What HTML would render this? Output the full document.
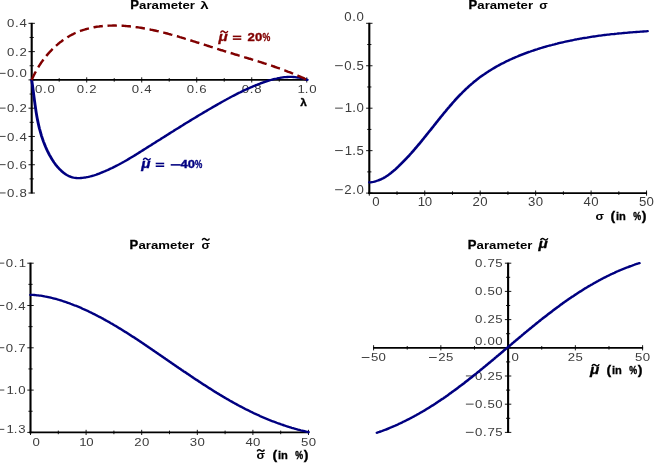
<!DOCTYPE html>
<html><head><meta charset="utf-8"><title>Parameter plots</title>
<style>
html,body{margin:0;padding:0;background:#fff;}
body{width:654px;height:463px;overflow:hidden;}
svg{display:block;will-change:transform;}
text{font-family:"Liberation Sans",sans-serif;}
.tk{font-family:"Liberation Sans",sans-serif;font-size:11.0px;fill:#3c3c3c;text-anchor:middle;}
.ttl{font-family:"Liberation Sans",sans-serif;font-weight:bold;font-size:11px;}
.hv{stroke-width:0.35px;}
.it{font-style:italic;}
</style></head><body>
<svg width="654" height="463" viewBox="0 0 654 463">
<rect x="0" y="0" width="654" height="463" fill="#ffffff"/>
<line x1="31.70" y1="22.84" x2="31.70" y2="193.52" stroke="#000000" stroke-width="2.1"/>
<line x1="30.70" y1="79.90" x2="307.25" y2="79.90" stroke="#000000" stroke-width="1.8"/>
<line x1="28.50" y1="193.02" x2="34.90" y2="193.02" stroke="#000000" stroke-width="0.9"/>
<line x1="29.60" y1="178.88" x2="33.80" y2="178.88" stroke="#000000" stroke-width="0.9"/>
<line x1="28.50" y1="164.74" x2="34.90" y2="164.74" stroke="#000000" stroke-width="0.9"/>
<line x1="29.60" y1="150.60" x2="33.80" y2="150.60" stroke="#000000" stroke-width="0.9"/>
<line x1="28.50" y1="136.46" x2="34.90" y2="136.46" stroke="#000000" stroke-width="0.9"/>
<line x1="29.60" y1="122.32" x2="33.80" y2="122.32" stroke="#000000" stroke-width="0.9"/>
<line x1="28.50" y1="108.18" x2="34.90" y2="108.18" stroke="#000000" stroke-width="0.9"/>
<line x1="29.60" y1="94.04" x2="33.80" y2="94.04" stroke="#000000" stroke-width="0.9"/>
<line x1="28.50" y1="79.90" x2="34.90" y2="79.90" stroke="#000000" stroke-width="0.9"/>
<line x1="29.60" y1="65.76" x2="33.80" y2="65.76" stroke="#000000" stroke-width="0.9"/>
<line x1="28.50" y1="51.62" x2="34.90" y2="51.62" stroke="#000000" stroke-width="0.9"/>
<line x1="29.60" y1="37.48" x2="33.80" y2="37.48" stroke="#000000" stroke-width="0.9"/>
<line x1="28.50" y1="23.34" x2="34.90" y2="23.34" stroke="#000000" stroke-width="0.9"/>
<line x1="31.70" y1="77.30" x2="31.70" y2="82.50" stroke="#000000" stroke-width="0.9"/>
<line x1="59.20" y1="78.10" x2="59.20" y2="81.70" stroke="#000000" stroke-width="0.9"/>
<line x1="86.71" y1="77.30" x2="86.71" y2="82.50" stroke="#000000" stroke-width="0.9"/>
<line x1="114.22" y1="78.10" x2="114.22" y2="81.70" stroke="#000000" stroke-width="0.9"/>
<line x1="141.72" y1="77.30" x2="141.72" y2="82.50" stroke="#000000" stroke-width="0.9"/>
<line x1="169.22" y1="78.10" x2="169.22" y2="81.70" stroke="#000000" stroke-width="0.9"/>
<line x1="196.73" y1="77.30" x2="196.73" y2="82.50" stroke="#000000" stroke-width="0.9"/>
<line x1="224.23" y1="78.10" x2="224.23" y2="81.70" stroke="#000000" stroke-width="0.9"/>
<line x1="251.74" y1="77.30" x2="251.74" y2="82.50" stroke="#000000" stroke-width="0.9"/>
<line x1="279.25" y1="78.10" x2="279.25" y2="81.70" stroke="#000000" stroke-width="0.9"/>
<line x1="306.75" y1="77.30" x2="306.75" y2="82.50" stroke="#000000" stroke-width="0.9"/>
<text class="tk" style="font-size:11.7px" transform="translate(0,27.43) scale(1.128,1)" x="9.53 15.02 20.52" y="0">0.4</text>
<text class="tk" style="font-size:11.7px" transform="translate(0,55.71) scale(1.128,1)" x="9.53 15.02 20.52" y="0">0.2</text>
<text class="tk" style="font-size:11.7px" transform="translate(0,77.49) scale(1.128,1)" x="9.53 15.02 20.52" y="0">0.0</text>
<rect x="-2.10" y="72.85" width="7.7" height="0.95" fill="#3c3c3c"/>
<text class="tk" style="font-size:11.7px" transform="translate(0,112.27) scale(1.128,1)" x="9.53 15.02 20.52" y="0">0.2</text>
<rect x="-2.10" y="107.63" width="7.7" height="0.95" fill="#3c3c3c"/>
<text class="tk" style="font-size:11.7px" transform="translate(0,140.55) scale(1.128,1)" x="9.53 15.02 20.52" y="0">0.4</text>
<rect x="-2.10" y="135.91" width="7.7" height="0.95" fill="#3c3c3c"/>
<text class="tk" style="font-size:11.7px" transform="translate(0,168.83) scale(1.128,1)" x="9.53 15.02 20.52" y="0">0.6</text>
<rect x="-2.10" y="164.19" width="7.7" height="0.95" fill="#3c3c3c"/>
<text class="tk" style="font-size:11.7px" transform="translate(0,197.11) scale(1.128,1)" x="9.53 15.02 20.52" y="0">0.8</text>
<rect x="-2.10" y="192.47" width="7.7" height="0.95" fill="#3c3c3c"/>
<text class="tk" style="font-size:11.7px" transform="translate(0,92.60) scale(1.128,1)" x="34.30 39.80 45.29" y="0">0.0</text>
<text class="tk" style="font-size:11.7px" transform="translate(0,92.60) scale(1.128,1)" x="71.36 76.86 82.35" y="0">0.2</text>
<text class="tk" style="font-size:11.7px" transform="translate(0,92.60) scale(1.128,1)" x="120.12 125.62 131.11" y="0">0.4</text>
<text class="tk" style="font-size:11.7px" transform="translate(0,92.60) scale(1.128,1)" x="168.88 174.37 179.87" y="0">0.6</text>
<text class="tk" style="font-size:11.7px" transform="translate(0,92.60) scale(1.128,1)" x="217.64 223.13 228.63" y="0">0.8</text>
<text class="tk" style="font-size:11.7px" transform="translate(0,92.60) scale(1.128,1)" x="266.93 271.89 277.39" y="0">1.0</text>
<path transform="scale(1.25,1)" d="M25.36,79.9 L25.55,81.5 L25.73,83.1 L25.91,84.6 L26.08,86.2 L26.25,87.8 L26.42,89.3 L26.59,90.9 L26.75,92.4 L26.91,94.0 L27.07,95.5 L27.23,97.1 L27.39,98.6 L27.55,100.1 L27.71,101.7 L27.88,103.2 L28.04,104.7 L28.21,106.2 L28.39,107.7 L28.57,109.2 L28.75,110.8 L28.94,112.3 L29.14,113.8 L29.34,115.3 L29.56,116.8 L29.78,118.3 L30.00,119.7 L30.24,121.2 L30.49,122.7 L30.75,124.2 L31.02,125.7 L31.30,127.2 L31.59,128.7 L31.90,130.1 L32.22,131.6 L32.55,133.1 L32.90,134.6 L33.27,136.1 L33.65,137.5 L34.05,139.0 L34.46,140.5 L34.90,142.0 L35.35,143.4 L35.82,144.9 L36.31,146.4 L36.82,147.8 L37.35,149.3 L37.90,150.8 L38.48,152.3 L39.07,153.7 L39.69,155.2 L40.33,156.6 L40.99,158.0 L41.67,159.4 L42.38,160.8 L43.11,162.2 L43.86,163.5 L44.63,164.8 L45.43,166.0 L46.25,167.3 L47.09,168.4 L47.95,169.6 L48.84,170.6 L49.75,171.7 L50.68,172.6 L51.63,173.5 L52.61,174.3 L53.62,175.1 L54.64,175.8 L55.69,176.4 L56.76,176.9 L57.86,177.3 L58.97,177.6 L60.11,177.8 L61.26,178.0 L62.42,178.1 L63.60,178.1 L64.79,178.0 L65.99,177.9 L67.19,177.7 L68.41,177.5 L69.62,177.2 L70.84,176.9 L72.05,176.5 L73.27,176.1 L74.48,175.7 L75.69,175.2 L76.90,174.7 L78.10,174.1 L79.29,173.6 L80.47,173.0 L81.65,172.4 L82.82,171.8 L83.99,171.2 L85.15,170.6 L86.30,170.0 L87.44,169.3 L88.58,168.6 L89.72,168.0 L90.84,167.3 L91.96,166.6 L93.08,165.8 L94.19,165.1 L95.30,164.4 L96.40,163.6 L97.50,162.9 L98.59,162.1 L99.68,161.4 L100.77,160.6 L101.85,159.8 L102.93,159.0 L104.00,158.2 L105.08,157.4 L106.14,156.6 L107.21,155.8 L108.27,155.0 L109.34,154.2 L110.40,153.3 L111.45,152.5 L112.51,151.7 L113.56,150.9 L114.62,150.0 L115.67,149.2 L116.72,148.4 L117.77,147.5 L118.82,146.7 L119.87,145.9 L120.92,145.1 L121.96,144.2 L123.01,143.4 L124.06,142.6 L125.10,141.7 L126.15,140.9 L127.20,140.1 L128.24,139.3 L129.29,138.4 L130.33,137.6 L131.38,136.8 L132.42,136.0 L133.47,135.2 L134.51,134.3 L135.56,133.5 L136.60,132.7 L137.65,131.9 L138.69,131.1 L139.74,130.2 L140.79,129.4 L141.83,128.6 L142.88,127.8 L143.93,127.0 L144.98,126.2 L146.03,125.4 L147.07,124.5 L148.12,123.7 L149.18,122.9 L150.23,122.1 L151.28,121.3 L152.33,120.5 L153.39,119.7 L154.44,118.9 L155.50,118.1 L156.56,117.3 L157.62,116.5 L158.68,115.7 L159.74,114.9 L160.80,114.1 L161.86,113.3 L162.93,112.5 L163.99,111.7 L165.06,111.0 L166.13,110.2 L167.20,109.4 L168.28,108.6 L169.35,107.8 L170.43,107.0 L171.50,106.3 L172.58,105.5 L173.67,104.7 L174.75,103.9 L175.83,103.2 L176.92,102.4 L178.01,101.6 L179.10,100.9 L180.20,100.1 L181.29,99.4 L182.39,98.6 L183.49,97.9 L184.60,97.1 L185.70,96.4 L186.81,95.7 L187.92,95.0 L189.03,94.3 L190.15,93.5 L191.27,92.8 L192.39,92.2 L193.51,91.5 L194.64,90.8 L195.77,90.1 L196.90,89.5 L198.03,88.8 L199.17,88.2 L200.31,87.6 L201.46,86.9 L202.61,86.3 L203.76,85.7 L204.91,85.1 L206.07,84.6 L207.23,84.0 L208.39,83.4 L209.56,82.9 L210.73,82.4 L211.91,81.9 L213.09,81.4 L214.27,80.9 L215.45,80.4 L216.64,80.0 L217.83,79.6 L219.02,79.2 L220.22,78.8 L221.42,78.5 L222.62,78.1 L223.82,77.9 L225.03,77.6 L226.24,77.4 L227.45,77.2 L228.66,77.1 L229.88,77.0 L231.10,76.9 L232.32,76.9 L233.54,76.9 L234.76,77.0 L235.99,77.1 L237.22,77.3 L238.44,77.5 L239.67,77.7 L240.91,78.1 L242.14,78.4 L243.37,78.9 L244.61,79.4 L245.84,79.9" fill="none" stroke="#000080" stroke-width="2.3" stroke-linecap="round" stroke-linejoin="round"/>
<path d="M31.67,79.9 L32.18,78.7 L32.71,77.6 L33.26,76.4 L33.83,75.2 L34.41,74.1 L35.00,72.9 L35.62,71.8 L36.25,70.6 L36.89,69.5 L37.55,68.4 L38.22,67.3 L38.91,66.2 L39.61,65.1 L40.33,64.0 L41.06,62.9 L41.81,61.8 L42.57,60.8 L43.34,59.7 L44.13,58.7 L44.93,57.6 L45.75,56.6 L46.57,55.6 L47.41,54.6 L48.27,53.6 L49.13,52.7 L50.01,51.7 L50.90,50.8 L51.80,49.8 L52.71,48.9 L53.63,48.0 L54.57,47.1 L55.52,46.3 L56.47,45.4 L57.44,44.6 L58.42,43.7 L59.41,42.9 L60.41,42.1 L61.42,41.4 L62.44,40.6 L63.47,39.9 L64.50,39.1 L65.55,38.4 L66.61,37.8 L67.67,37.1 L68.75,36.5 L69.83,35.8 L70.92,35.2 L72.02,34.6 L73.13,34.1 L74.24,33.5 L75.36,33.0 L76.49,32.5 L77.63,32.0 L78.77,31.6 L79.93,31.1 L81.08,30.7 L82.25,30.3 L83.42,29.9 L84.59,29.6 L85.78,29.2 L86.96,28.9 L88.16,28.6 L89.35,28.3 L90.56,28.0 L91.77,27.7 L92.98,27.5 L94.20,27.2 L95.42,27.0 L96.65,26.8 L97.88,26.6 L99.11,26.5 L100.35,26.3 L101.59,26.2 L102.84,26.0 L104.09,25.9 L105.34,25.8 L106.59,25.8 L107.85,25.7 L109.11,25.6 L110.37,25.6 L111.63,25.6 L112.90,25.5 L114.16,25.5 L115.43,25.5 L116.70,25.6 L117.97,25.6 L119.24,25.6 L120.51,25.7 L121.78,25.7 L123.06,25.8 L124.33,25.9 L125.60,26.0 L126.87,26.1 L128.15,26.2 L129.42,26.3 L130.69,26.5 L131.96,26.6 L133.23,26.8 L134.50,26.9 L135.76,27.1 L137.03,27.2 L138.30,27.4 L139.57,27.6 L140.83,27.8 L142.10,28.0 L143.36,28.2 L144.63,28.5 L145.89,28.7 L147.16,28.9 L148.42,29.2 L149.68,29.4 L150.94,29.7 L152.20,29.9 L153.47,30.2 L154.73,30.5 L155.99,30.8 L157.24,31.1 L158.50,31.3 L159.76,31.6 L161.02,31.9 L162.27,32.3 L163.53,32.6 L164.79,32.9 L166.04,33.2 L167.29,33.5 L168.55,33.9 L169.80,34.2 L171.05,34.6 L172.31,34.9 L173.56,35.3 L174.81,35.6 L176.06,36.0 L177.31,36.3 L178.56,36.7 L179.80,37.1 L181.05,37.4 L182.30,37.8 L183.55,38.2 L184.79,38.6 L186.04,38.9 L187.28,39.3 L188.53,39.7 L189.77,40.1 L191.01,40.5 L192.25,40.9 L193.50,41.3 L194.74,41.7 L195.98,42.1 L197.22,42.5 L198.46,42.8 L199.69,43.2 L200.93,43.6 L202.17,44.0 L203.40,44.4 L204.64,44.8 L205.88,45.2 L207.11,45.6 L208.34,46.0 L209.58,46.4 L210.81,46.8 L212.04,47.2 L213.27,47.6 L214.50,48.0 L215.73,48.4 L216.96,48.8 L218.19,49.2 L219.42,49.6 L220.65,50.0 L221.87,50.3 L223.10,50.7 L224.32,51.1 L225.55,51.5 L226.77,51.9 L228.00,52.2 L229.22,52.6 L230.44,53.0 L231.66,53.3 L232.88,53.7 L234.10,54.1 L235.32,54.5 L236.54,54.8 L237.76,55.2 L238.98,55.6 L240.19,55.9 L241.41,56.3 L242.62,56.6 L243.84,57.0 L245.05,57.4 L246.26,57.7 L247.48,58.1 L248.69,58.5 L249.90,58.8 L251.11,59.2 L252.32,59.6 L253.53,60.0 L254.74,60.3 L255.94,60.7 L257.15,61.1 L258.36,61.4 L259.56,61.8 L260.77,62.2 L261.97,62.6 L263.17,63.0 L264.37,63.4 L265.58,63.7 L266.78,64.1 L267.98,64.5 L269.18,64.9 L270.38,65.3 L271.57,65.7 L272.77,66.1 L273.97,66.5 L275.16,67.0 L276.36,67.4 L277.55,67.8 L278.75,68.2 L279.94,68.6 L281.13,69.1 L282.32,69.5 L283.51,70.0 L284.70,70.4 L285.89,70.8 L287.08,71.3 L288.27,71.8 L289.45,72.2 L290.64,72.7 L291.82,73.2 L293.01,73.6 L294.19,74.1 L295.38,74.6 L296.56,75.1 L297.74,75.6 L298.92,76.1 L300.10,76.6 L301.28,77.2 L302.46,77.7 L303.63,78.2 L304.81,78.8 L305.99,79.3" fill="none" stroke="#800000" stroke-width="2.45" stroke-dasharray="9.4 4.7"/>
<text class="ttl" style="font-size:12.4px" transform="translate(130.20,8.50) scale(1.052,1)"  stroke="#000" stroke-width="0.32">P</text>
<text class="ttl" style="font-size:11.3px" transform="translate(139.10,8.50) scale(1.169,1)" >arameter</text>
<text class="ttl" style="font-size:11.0px" transform="translate(200.30,8.50) scale(1.373,1)" >λ</text>
<text class="ttl" style="font-size:11.0px" transform="translate(300.20,106.40) scale(1.079,1)"  stroke="#000" stroke-width="0.32">λ</text>
<text class="ttl it hv" style="font-size:12.5px" transform="translate(218.60,40.80) scale(1.221,1)" fill="#800000" stroke="#800000">μ</text>
<path d="M220.60,32.80 C221.68,30.30 223.30,31.10 224.20,31.90 S226.72,33.50 227.80,31.00" fill="none" stroke-width="1.5" stroke="#800000"/>
<rect x="232.80" y="35.60" width="8.5" height="1.55" fill="#800000"/>
<rect x="232.80" y="38.35" width="8.5" height="1.55" fill="#800000"/>
<text class="ttl hv" style="font-size:11.0px" transform="translate(247.60,40.90) scale(1.193,1)" fill="#800000" stroke="#800000">20</text>
<text class="ttl hv" style="font-size:11.0px" transform="translate(262.40,40.90) scale(0.797,1)" fill="#800000" stroke="#800000">%</text>
<text class="ttl it hv" style="font-size:12.5px" transform="translate(141.30,168.00) scale(1.221,1)" fill="#000080" stroke="#000080">μ</text>
<path d="M143.30,160.00 C144.38,157.50 146.00,158.30 146.90,159.10 S149.42,160.70 150.50,158.20" fill="none" stroke-width="1.5" stroke="#000080"/>
<rect x="155.70" y="162.70" width="8.5" height="1.55" fill="#000080"/>
<rect x="155.70" y="165.45" width="8.5" height="1.55" fill="#000080"/>
<rect x="170.7" y="164.1" width="10.0" height="1.55" fill="#000080"/>
<text class="ttl hv" style="font-size:11.0px" transform="translate(180.40,168.20) scale(1.185,1)" fill="#000080" stroke="#000080">40</text>
<text class="ttl hv" style="font-size:11.0px" transform="translate(195.10,168.20) scale(0.746,1)" fill="#000080" stroke="#000080">%</text>
<line x1="369.30" y1="22.80" x2="369.30" y2="194.10" stroke="#000000" stroke-width="2.1"/>
<line x1="368.30" y1="193.10" x2="647.05" y2="193.10" stroke="#000000" stroke-width="1.8"/>
<line x1="366.10" y1="23.30" x2="372.50" y2="23.30" stroke="#000000" stroke-width="0.9"/>
<line x1="367.20" y1="44.53" x2="371.40" y2="44.53" stroke="#000000" stroke-width="0.9"/>
<line x1="366.10" y1="65.75" x2="372.50" y2="65.75" stroke="#000000" stroke-width="0.9"/>
<line x1="367.20" y1="86.98" x2="371.40" y2="86.98" stroke="#000000" stroke-width="0.9"/>
<line x1="366.10" y1="108.20" x2="372.50" y2="108.20" stroke="#000000" stroke-width="0.9"/>
<line x1="367.20" y1="129.43" x2="371.40" y2="129.43" stroke="#000000" stroke-width="0.9"/>
<line x1="366.10" y1="150.65" x2="372.50" y2="150.65" stroke="#000000" stroke-width="0.9"/>
<line x1="367.20" y1="171.88" x2="371.40" y2="171.88" stroke="#000000" stroke-width="0.9"/>
<line x1="366.10" y1="193.10" x2="372.50" y2="193.10" stroke="#000000" stroke-width="0.9"/>
<line x1="369.30" y1="190.50" x2="369.30" y2="195.70" stroke="#000000" stroke-width="0.9"/>
<line x1="397.03" y1="191.30" x2="397.03" y2="194.90" stroke="#000000" stroke-width="0.9"/>
<line x1="424.75" y1="190.50" x2="424.75" y2="195.70" stroke="#000000" stroke-width="0.9"/>
<line x1="452.48" y1="191.30" x2="452.48" y2="194.90" stroke="#000000" stroke-width="0.9"/>
<line x1="480.20" y1="190.50" x2="480.20" y2="195.70" stroke="#000000" stroke-width="0.9"/>
<line x1="507.93" y1="191.30" x2="507.93" y2="194.90" stroke="#000000" stroke-width="0.9"/>
<line x1="535.65" y1="190.50" x2="535.65" y2="195.70" stroke="#000000" stroke-width="0.9"/>
<line x1="563.38" y1="191.30" x2="563.38" y2="194.90" stroke="#000000" stroke-width="0.9"/>
<line x1="591.10" y1="190.50" x2="591.10" y2="195.70" stroke="#000000" stroke-width="0.9"/>
<line x1="618.83" y1="191.30" x2="618.83" y2="194.90" stroke="#000000" stroke-width="0.9"/>
<line x1="646.55" y1="190.50" x2="646.55" y2="195.70" stroke="#000000" stroke-width="0.9"/>
<text class="tk" style="font-size:11.9px" transform="translate(0,20.96) scale(1.109,1)" x="313.68 319.27 324.86" y="0">0.0</text>
<text class="tk" style="font-size:11.9px" transform="translate(0,69.91) scale(1.109,1)" x="313.68 319.27 324.86" y="0">0.5</text>
<rect x="335.10" y="65.20" width="7.7" height="0.95" fill="#3c3c3c"/>
<text class="tk" style="font-size:11.9px" transform="translate(0,112.36) scale(1.109,1)" x="314.22 319.27 324.86" y="0">1.0</text>
<rect x="335.10" y="107.65" width="7.7" height="0.95" fill="#3c3c3c"/>
<text class="tk" style="font-size:11.9px" transform="translate(0,154.81) scale(1.109,1)" x="314.22 319.27 324.86" y="0">1.5</text>
<rect x="335.10" y="150.10" width="7.7" height="0.95" fill="#3c3c3c"/>
<text class="tk" style="font-size:11.9px" transform="translate(0,193.96) scale(1.109,1)" x="313.68 319.27 324.86" y="0">2.0</text>
<rect x="335.10" y="189.25" width="7.7" height="0.95" fill="#3c3c3c"/>
<text class="tk" style="font-size:11.9px" transform="translate(0,205.60) scale(1.109,1)" x="339.06" y="0">0</text>
<text class="tk" style="font-size:11.9px" transform="translate(0,205.60) scale(1.109,1)" x="379.99 386.39" y="0">10</text>
<text class="tk" style="font-size:11.9px" transform="translate(0,205.60) scale(1.109,1)" x="429.44 436.38" y="0">20</text>
<text class="tk" style="font-size:11.9px" transform="translate(0,205.60) scale(1.109,1)" x="479.43 486.37" y="0">30</text>
<text class="tk" style="font-size:11.9px" transform="translate(0,205.60) scale(1.109,1)" x="529.41 536.36" y="0">40</text>
<text class="tk" style="font-size:11.9px" transform="translate(0,205.60) scale(1.109,1)" x="579.40 586.35" y="0">50</text>
<path transform="scale(1.25,1)" d="M295.53,182.4 L296.56,182.3 L297.59,182.1 L298.62,181.9 L299.64,181.6 L300.66,181.2 L301.67,180.8 L302.67,180.4 L303.66,179.9 L304.65,179.4 L305.62,178.8 L306.58,178.2 L307.53,177.5 L308.46,176.8 L309.39,176.0 L310.30,175.3 L311.20,174.5 L312.09,173.6 L312.97,172.8 L313.84,171.9 L314.70,171.0 L315.55,170.1 L316.39,169.2 L317.23,168.2 L318.06,167.2 L318.88,166.3 L319.69,165.3 L320.50,164.3 L321.30,163.3 L322.10,162.3 L322.89,161.3 L323.68,160.3 L324.46,159.3 L325.24,158.3 L326.01,157.2 L326.77,156.2 L327.53,155.2 L328.29,154.1 L329.04,153.1 L329.79,152.0 L330.54,151.0 L331.28,149.9 L332.02,148.8 L332.75,147.8 L333.48,146.7 L334.21,145.6 L334.93,144.5 L335.65,143.5 L336.37,142.4 L337.08,141.3 L337.80,140.2 L338.51,139.1 L339.22,138.0 L339.92,136.9 L340.63,135.8 L341.33,134.7 L342.04,133.6 L342.74,132.5 L343.44,131.4 L344.14,130.4 L344.83,129.3 L345.53,128.2 L346.23,127.1 L346.93,126.0 L347.62,124.9 L348.32,123.8 L349.01,122.7 L349.71,121.6 L350.41,120.5 L351.11,119.4 L351.81,118.3 L352.51,117.2 L353.21,116.2 L353.91,115.1 L354.61,114.0 L355.32,112.9 L356.03,111.8 L356.73,110.8 L357.45,109.7 L358.16,108.7 L358.87,107.6 L359.59,106.6 L360.31,105.5 L361.04,104.5 L361.76,103.4 L362.49,102.4 L363.23,101.4 L363.96,100.3 L364.71,99.3 L365.45,98.3 L366.20,97.3 L366.95,96.3 L367.71,95.3 L368.47,94.3 L369.24,93.4 L370.01,92.4 L370.78,91.4 L371.56,90.5 L372.35,89.5 L373.14,88.6 L373.94,87.7 L374.74,86.7 L375.55,85.8 L376.37,84.9 L377.19,84.0 L378.01,83.2 L378.85,82.3 L379.69,81.4 L380.54,80.6 L381.39,79.7 L382.25,78.9 L383.12,78.0 L384.00,77.2 L384.88,76.4 L385.77,75.6 L386.66,74.8 L387.57,74.1 L388.47,73.3 L389.39,72.5 L390.31,71.8 L391.23,71.0 L392.16,70.3 L393.10,69.6 L394.04,68.9 L394.99,68.2 L395.94,67.5 L396.90,66.8 L397.86,66.1 L398.83,65.5 L399.81,64.8 L400.78,64.1 L401.77,63.5 L402.75,62.9 L403.75,62.3 L404.74,61.6 L405.74,61.0 L406.75,60.4 L407.76,59.8 L408.77,59.3 L409.79,58.7 L410.81,58.1 L411.83,57.6 L412.86,57.0 L413.89,56.5 L414.92,55.9 L415.96,55.4 L417.00,54.9 L418.04,54.4 L419.09,53.9 L420.14,53.4 L421.19,52.9 L422.24,52.4 L423.30,51.9 L424.36,51.5 L425.42,51.0 L426.48,50.6 L427.54,50.1 L428.61,49.7 L429.68,49.3 L430.75,48.8 L431.82,48.4 L432.89,48.0 L433.97,47.6 L435.05,47.2 L436.12,46.8 L437.20,46.4 L438.28,46.0 L439.36,45.7 L440.44,45.3 L441.52,45.0 L442.60,44.6 L443.68,44.3 L444.76,43.9 L445.85,43.6 L446.93,43.2 L448.01,42.9 L449.09,42.6 L450.17,42.3 L451.25,42.0 L452.34,41.7 L453.42,41.4 L454.50,41.1 L455.58,40.8 L456.66,40.5 L457.74,40.3 L458.82,40.0 L459.90,39.7 L460.98,39.5 L462.06,39.2 L463.14,39.0 L464.22,38.7 L465.30,38.5 L466.38,38.2 L467.47,38.0 L468.55,37.8 L469.63,37.6 L470.71,37.3 L471.79,37.1 L472.88,36.9 L473.96,36.7 L475.04,36.5 L476.13,36.3 L477.21,36.1 L478.30,35.9 L479.38,35.7 L480.47,35.6 L481.56,35.4 L482.65,35.2 L483.74,35.0 L484.82,34.9 L485.91,34.7 L487.01,34.6 L488.10,34.4 L489.19,34.2 L490.28,34.1 L491.38,34.0 L492.47,33.8 L493.57,33.7 L494.67,33.5 L495.77,33.4 L496.86,33.3 L497.97,33.1 L499.07,33.0 L500.17,32.9 L501.27,32.8 L502.38,32.6 L503.49,32.5 L504.59,32.4 L505.70,32.3 L506.81,32.2 L507.93,32.1 L509.04,32.0 L510.15,31.9 L511.27,31.8 L512.39,31.7 L513.51,31.6 L514.63,31.5 L515.75,31.4 L516.88,31.3 L518.00,31.2" fill="none" stroke="#000080" stroke-width="2.3" stroke-linecap="round" stroke-linejoin="round"/>
<text class="ttl" style="font-size:12.4px" transform="translate(468.40,8.50) scale(1.052,1)"  stroke="#000" stroke-width="0.32">P</text>
<text class="ttl" style="font-size:11.3px" transform="translate(477.30,8.50) scale(1.169,1)" >arameter</text>
<text class="ttl" style="font-size:11.0px" transform="translate(539.20,8.60) scale(1.130,1)" fill="#000" >σ</text>
<text class="ttl" style="font-size:11.0px" transform="translate(595.60,220.10) scale(1.130,1)" fill="#000" >σ</text>
<text class="ttl" style="font-size:13.2px" transform="translate(610.40,219.90) scale(1.069,1)"  stroke="#000" stroke-width="0.32">(</text>
<text class="ttl" style="font-size:11.6px" transform="translate(616.00,220.10) scale(0.960,1)"  stroke="#000" stroke-width="0.32">in</text>
<text class="ttl" style="font-size:11.4px" transform="translate(633.20,220.10) scale(0.779,1)"  stroke="#000" stroke-width="0.42">%</text>
<text class="ttl" style="font-size:13.2px" transform="translate(641.70,219.90) scale(1.069,1)"  stroke="#000" stroke-width="0.32">)</text>
<line x1="30.50" y1="262.70" x2="30.50" y2="433.40" stroke="#000000" stroke-width="2.1"/>
<line x1="29.50" y1="432.40" x2="309.00" y2="432.40" stroke="#000000" stroke-width="1.8"/>
<line x1="27.30" y1="263.20" x2="33.70" y2="263.20" stroke="#000000" stroke-width="0.9"/>
<line x1="28.40" y1="284.35" x2="32.60" y2="284.35" stroke="#000000" stroke-width="0.9"/>
<line x1="27.30" y1="305.50" x2="33.70" y2="305.50" stroke="#000000" stroke-width="0.9"/>
<line x1="28.40" y1="326.65" x2="32.60" y2="326.65" stroke="#000000" stroke-width="0.9"/>
<line x1="27.30" y1="347.80" x2="33.70" y2="347.80" stroke="#000000" stroke-width="0.9"/>
<line x1="28.40" y1="368.95" x2="32.60" y2="368.95" stroke="#000000" stroke-width="0.9"/>
<line x1="27.30" y1="390.10" x2="33.70" y2="390.10" stroke="#000000" stroke-width="0.9"/>
<line x1="28.40" y1="411.25" x2="32.60" y2="411.25" stroke="#000000" stroke-width="0.9"/>
<line x1="27.30" y1="432.40" x2="33.70" y2="432.40" stroke="#000000" stroke-width="0.9"/>
<line x1="30.50" y1="429.80" x2="30.50" y2="435.00" stroke="#000000" stroke-width="0.9"/>
<line x1="58.30" y1="430.60" x2="58.30" y2="434.20" stroke="#000000" stroke-width="0.9"/>
<line x1="86.10" y1="429.80" x2="86.10" y2="435.00" stroke="#000000" stroke-width="0.9"/>
<line x1="113.90" y1="430.60" x2="113.90" y2="434.20" stroke="#000000" stroke-width="0.9"/>
<line x1="141.70" y1="429.80" x2="141.70" y2="435.00" stroke="#000000" stroke-width="0.9"/>
<line x1="169.50" y1="430.60" x2="169.50" y2="434.20" stroke="#000000" stroke-width="0.9"/>
<line x1="197.30" y1="429.80" x2="197.30" y2="435.00" stroke="#000000" stroke-width="0.9"/>
<line x1="225.10" y1="430.60" x2="225.10" y2="434.20" stroke="#000000" stroke-width="0.9"/>
<line x1="252.90" y1="429.80" x2="252.90" y2="435.00" stroke="#000000" stroke-width="0.9"/>
<line x1="280.70" y1="430.60" x2="280.70" y2="434.20" stroke="#000000" stroke-width="0.9"/>
<line x1="308.50" y1="429.80" x2="308.50" y2="435.00" stroke="#000000" stroke-width="0.9"/>
<text class="tk" style="font-size:11.5px" transform="translate(0,267.22) scale(1.148,1)" x="8.23 13.63 19.56" y="0">0.1</text>
<rect x="-3.40" y="262.65" width="7.7" height="0.95" fill="#3c3c3c"/>
<text class="tk" style="font-size:11.5px" transform="translate(0,309.52) scale(1.148,1)" x="8.23 13.63 19.04" y="0">0.4</text>
<rect x="-3.40" y="304.95" width="7.7" height="0.95" fill="#3c3c3c"/>
<text class="tk" style="font-size:11.5px" transform="translate(0,351.82) scale(1.148,1)" x="8.23 13.63 19.04" y="0">0.7</text>
<rect x="-3.40" y="347.25" width="7.7" height="0.95" fill="#3c3c3c"/>
<text class="tk" style="font-size:11.5px" transform="translate(0,394.12) scale(1.148,1)" x="8.76 13.63 19.04" y="0">1.0</text>
<rect x="-3.40" y="389.55" width="7.7" height="0.95" fill="#3c3c3c"/>
<text class="tk" style="font-size:11.5px" transform="translate(0,433.42) scale(1.148,1)" x="8.76 13.63 19.04" y="0">1.3</text>
<rect x="-3.40" y="428.85" width="7.7" height="0.95" fill="#3c3c3c"/>
<text class="tk" style="font-size:11.5px" transform="translate(0,445.60) scale(1.148,1)" x="31.62" y="0">0</text>
<text class="tk" style="font-size:11.5px" transform="translate(0,445.60) scale(1.148,1)" x="72.18 78.37" y="0">10</text>
<text class="tk" style="font-size:11.5px" transform="translate(0,445.60) scale(1.148,1)" x="120.10 126.80" y="0">20</text>
<text class="tk" style="font-size:11.5px" transform="translate(0,445.60) scale(1.148,1)" x="168.54 175.24" y="0">30</text>
<text class="tk" style="font-size:11.5px" transform="translate(0,445.60) scale(1.148,1)" x="216.98 223.68" y="0">40</text>
<text class="tk" style="font-size:11.5px" transform="translate(0,445.60) scale(1.148,1)" x="265.41 272.12" y="0">50</text>
<path transform="scale(1.25,1)" d="M24.45,294.8 L25.47,294.9 L26.48,294.9 L27.50,295.0 L28.52,295.1 L29.53,295.3 L30.54,295.4 L31.56,295.6 L32.57,295.7 L33.58,295.9 L34.59,296.1 L35.60,296.4 L36.60,296.6 L37.61,296.8 L38.61,297.1 L39.62,297.4 L40.62,297.7 L41.62,298.0 L42.62,298.3 L43.61,298.6 L44.61,298.9 L45.60,299.3 L46.59,299.7 L47.58,300.0 L48.57,300.4 L49.56,300.8 L50.55,301.2 L51.53,301.6 L52.51,302.0 L53.49,302.4 L54.47,302.9 L55.44,303.3 L56.42,303.8 L57.39,304.2 L58.36,304.7 L59.33,305.2 L60.30,305.6 L61.26,306.1 L62.23,306.6 L63.19,307.1 L64.15,307.6 L65.11,308.1 L66.06,308.7 L67.02,309.2 L67.97,309.7 L68.92,310.3 L69.87,310.8 L70.82,311.4 L71.77,312.0 L72.71,312.5 L73.65,313.1 L74.59,313.7 L75.53,314.3 L76.47,314.9 L77.41,315.5 L78.35,316.1 L79.28,316.7 L80.21,317.3 L81.14,317.9 L82.07,318.5 L83.00,319.2 L83.93,319.8 L84.85,320.5 L85.78,321.1 L86.70,321.7 L87.62,322.4 L88.54,323.1 L89.46,323.7 L90.37,324.4 L91.29,325.1 L92.20,325.7 L93.11,326.4 L94.03,327.1 L94.94,327.8 L95.84,328.5 L96.75,329.2 L97.66,329.9 L98.56,330.6 L99.47,331.3 L100.37,332.0 L101.27,332.7 L102.17,333.4 L103.07,334.1 L103.97,334.8 L104.87,335.6 L105.76,336.3 L106.66,337.0 L107.55,337.7 L108.44,338.5 L109.33,339.2 L110.22,339.9 L111.11,340.7 L112.00,341.4 L112.89,342.2 L113.78,342.9 L114.66,343.6 L115.55,344.4 L116.43,345.1 L117.31,345.9 L118.19,346.6 L119.07,347.4 L119.95,348.1 L120.83,348.8 L121.71,349.6 L122.59,350.3 L123.46,351.1 L124.34,351.8 L125.21,352.6 L126.09,353.3 L126.96,354.1 L127.84,354.8 L128.71,355.6 L129.58,356.3 L130.45,357.1 L131.32,357.8 L132.19,358.6 L133.06,359.3 L133.93,360.1 L134.80,360.8 L135.67,361.6 L136.54,362.3 L137.41,363.1 L138.28,363.8 L139.14,364.6 L140.01,365.3 L140.88,366.1 L141.75,366.8 L142.61,367.6 L143.48,368.3 L144.35,369.0 L145.22,369.8 L146.08,370.5 L146.95,371.3 L147.82,372.0 L148.69,372.7 L149.55,373.5 L150.42,374.2 L151.29,374.9 L152.16,375.7 L153.03,376.4 L153.90,377.1 L154.77,377.9 L155.64,378.6 L156.51,379.3 L157.38,380.0 L158.25,380.7 L159.12,381.5 L159.99,382.2 L160.87,382.9 L161.74,383.6 L162.61,384.3 L163.49,385.0 L164.36,385.7 L165.24,386.4 L166.12,387.1 L166.99,387.8 L167.87,388.5 L168.75,389.2 L169.63,389.9 L170.51,390.6 L171.40,391.3 L172.28,392.0 L173.16,392.7 L174.05,393.3 L174.94,394.0 L175.82,394.7 L176.71,395.3 L177.60,396.0 L178.49,396.7 L179.38,397.3 L180.28,398.0 L181.17,398.6 L182.07,399.3 L182.96,399.9 L183.86,400.6 L184.76,401.2 L185.66,401.8 L186.57,402.5 L187.47,403.1 L188.38,403.7 L189.29,404.3 L190.20,405.0 L191.11,405.6 L192.02,406.2 L192.93,406.8 L193.85,407.4 L194.77,408.0 L195.69,408.6 L196.61,409.2 L197.53,409.7 L198.46,410.3 L199.38,410.9 L200.31,411.5 L201.24,412.0 L202.17,412.6 L203.11,413.2 L204.05,413.7 L204.99,414.3 L205.93,414.8 L206.87,415.3 L207.82,415.9 L208.76,416.4 L209.71,416.9 L210.67,417.4 L211.62,417.9 L212.58,418.4 L213.54,418.9 L214.50,419.4 L215.46,419.9 L216.43,420.4 L217.40,420.9 L218.37,421.4 L219.34,421.8 L220.32,422.3 L221.30,422.8 L222.28,423.2 L223.27,423.6 L224.25,424.1 L225.24,424.5 L226.24,424.9 L227.23,425.4 L228.23,425.8 L229.23,426.2 L230.24,426.6 L231.25,427.0 L232.26,427.4 L233.27,427.8 L234.29,428.1 L235.30,428.5 L236.33,428.9 L237.35,429.2 L238.38,429.6 L239.41,429.9 L240.45,430.3 L241.49,430.6 L242.53,430.9 L243.57,431.2 L244.62,431.5 L245.67,431.8 L246.73,432.1" fill="none" stroke="#000080" stroke-width="2.3" stroke-linecap="round" stroke-linejoin="round"/>
<text class="ttl" style="font-size:12.4px" transform="translate(129.60,248.70) scale(1.052,1)"  stroke="#000" stroke-width="0.32">P</text>
<text class="ttl" style="font-size:11.3px" transform="translate(138.50,248.70) scale(1.169,1)" >arameter</text>
<text class="ttl" style="font-size:11.0px" transform="translate(201.60,249.00) scale(1.130,1)" fill="#000" >σ</text>
<path d="M202.20,240.30 C203.28,237.80 204.90,238.60 205.80,239.40 S208.32,241.00 209.40,238.50" fill="none" stroke-width="1.5" stroke="#000"/>
<text class="ttl" style="font-size:11.0px" transform="translate(256.60,459.10) scale(1.130,1)" fill="#000" >σ</text>
<path d="M257.20,451.40 C258.28,448.90 259.90,449.70 260.80,450.50 S263.32,452.10 264.40,449.60" fill="none" stroke-width="1.5" stroke="#000"/>
<text class="ttl" style="font-size:13.2px" transform="translate(272.40,458.90) scale(1.069,1)"  stroke="#000" stroke-width="0.32">(</text>
<text class="ttl" style="font-size:11.6px" transform="translate(278.00,459.10) scale(0.960,1)"  stroke="#000" stroke-width="0.32">in</text>
<text class="ttl" style="font-size:11.4px" transform="translate(295.20,459.10) scale(0.779,1)"  stroke="#000" stroke-width="0.42">%</text>
<text class="ttl" style="font-size:13.2px" transform="translate(303.70,458.90) scale(1.069,1)"  stroke="#000" stroke-width="0.32">)</text>
<line x1="508.10" y1="262.70" x2="508.10" y2="432.90" stroke="#000000" stroke-width="2.1"/>
<line x1="373.10" y1="347.80" x2="643.10" y2="347.80" stroke="#000000" stroke-width="1.8"/>
<line x1="504.90" y1="432.40" x2="511.30" y2="432.40" stroke="#000000" stroke-width="0.9"/>
<line x1="506.00" y1="418.30" x2="510.20" y2="418.30" stroke="#000000" stroke-width="0.9"/>
<line x1="504.90" y1="404.20" x2="511.30" y2="404.20" stroke="#000000" stroke-width="0.9"/>
<line x1="506.00" y1="390.10" x2="510.20" y2="390.10" stroke="#000000" stroke-width="0.9"/>
<line x1="504.90" y1="376.00" x2="511.30" y2="376.00" stroke="#000000" stroke-width="0.9"/>
<line x1="506.00" y1="361.90" x2="510.20" y2="361.90" stroke="#000000" stroke-width="0.9"/>
<line x1="504.90" y1="347.80" x2="511.30" y2="347.80" stroke="#000000" stroke-width="0.9"/>
<line x1="506.00" y1="333.70" x2="510.20" y2="333.70" stroke="#000000" stroke-width="0.9"/>
<line x1="504.90" y1="319.60" x2="511.30" y2="319.60" stroke="#000000" stroke-width="0.9"/>
<line x1="506.00" y1="305.50" x2="510.20" y2="305.50" stroke="#000000" stroke-width="0.9"/>
<line x1="504.90" y1="291.40" x2="511.30" y2="291.40" stroke="#000000" stroke-width="0.9"/>
<line x1="506.00" y1="277.30" x2="510.20" y2="277.30" stroke="#000000" stroke-width="0.9"/>
<line x1="504.90" y1="263.20" x2="511.30" y2="263.20" stroke="#000000" stroke-width="0.9"/>
<line x1="373.60" y1="345.20" x2="373.60" y2="350.40" stroke="#000000" stroke-width="0.9"/>
<line x1="407.23" y1="346.00" x2="407.23" y2="349.60" stroke="#000000" stroke-width="0.9"/>
<line x1="440.85" y1="345.20" x2="440.85" y2="350.40" stroke="#000000" stroke-width="0.9"/>
<line x1="474.48" y1="346.00" x2="474.48" y2="349.60" stroke="#000000" stroke-width="0.9"/>
<line x1="508.10" y1="345.20" x2="508.10" y2="350.40" stroke="#000000" stroke-width="0.9"/>
<line x1="541.73" y1="346.00" x2="541.73" y2="349.60" stroke="#000000" stroke-width="0.9"/>
<line x1="575.35" y1="345.20" x2="575.35" y2="350.40" stroke="#000000" stroke-width="0.9"/>
<line x1="608.98" y1="346.00" x2="608.98" y2="349.60" stroke="#000000" stroke-width="0.9"/>
<line x1="642.60" y1="345.20" x2="642.60" y2="350.40" stroke="#000000" stroke-width="0.9"/>
<text class="tk" style="font-size:11.0px" transform="translate(0,267.04) scale(1.200,1)" x="398.96 404.13 409.29 415.71" y="0">0.75</text>
<text class="tk" style="font-size:11.0px" transform="translate(0,295.24) scale(1.200,1)" x="398.96 404.13 409.29 415.71" y="0">0.50</text>
<text class="tk" style="font-size:11.0px" transform="translate(0,323.44) scale(1.200,1)" x="398.96 404.13 409.29 415.71" y="0">0.25</text>
<text class="tk" style="font-size:11.0px" transform="translate(0,345.14) scale(1.200,1)" x="398.96 404.13 409.29 415.71" y="0">0.00</text>
<text class="tk" style="font-size:11.0px" transform="translate(0,379.84) scale(1.200,1)" x="398.96 404.12 409.29 415.71" y="0">0.25</text>
<rect x="465.90" y="375.45" width="7.7" height="0.95" fill="#3c3c3c"/>
<text class="tk" style="font-size:11.0px" transform="translate(0,408.04) scale(1.200,1)" x="398.96 404.12 409.29 415.71" y="0">0.50</text>
<rect x="465.90" y="403.65" width="7.7" height="0.95" fill="#3c3c3c"/>
<text class="tk" style="font-size:11.0px" transform="translate(0,436.24) scale(1.200,1)" x="398.96 404.12 409.29 415.71" y="0">0.75</text>
<rect x="465.90" y="431.85" width="7.7" height="0.95" fill="#3c3c3c"/>
<text class="tk" style="font-size:11.0px" transform="translate(0,361.40) scale(1.200,1)" x="312.17 318.58" y="0">50</text>
<rect x="361.75" y="357.01" width="7.7" height="0.95" fill="#3c3c3c"/>
<text class="tk" style="font-size:11.0px" transform="translate(0,361.40) scale(1.200,1)" x="368.21 374.62" y="0">25</text>
<rect x="429.00" y="357.01" width="7.7" height="0.95" fill="#3c3c3c"/>
<text class="tk" style="font-size:11.0px" transform="translate(0,361.40) scale(1.200,1)" x="429.25" y="0">0</text>
<text class="tk" style="font-size:11.0px" transform="translate(0,361.40) scale(1.200,1)" x="476.25 482.67" y="0">25</text>
<text class="tk" style="font-size:11.0px" transform="translate(0,361.40) scale(1.200,1)" x="532.29 538.71" y="0">50</text>
<path transform="scale(1.25,1)" d="M301.59,432.8 L302.60,432.3 L303.61,431.9 L304.62,431.4 L305.62,431.0 L306.62,430.5 L307.62,430.0 L308.61,429.6 L309.60,429.1 L310.59,428.6 L311.57,428.1 L312.55,427.6 L313.53,427.1 L314.50,426.5 L315.47,426.0 L316.44,425.5 L317.40,424.9 L318.37,424.4 L319.32,423.8 L320.28,423.3 L321.23,422.7 L322.18,422.1 L323.13,421.6 L324.07,421.0 L325.01,420.4 L325.95,419.8 L326.89,419.2 L327.82,418.6 L328.75,418.0 L329.68,417.4 L330.60,416.8 L331.53,416.1 L332.45,415.5 L333.36,414.9 L334.28,414.2 L335.19,413.6 L336.10,412.9 L337.01,412.3 L337.91,411.6 L338.82,411.0 L339.72,410.3 L340.61,409.6 L341.51,408.9 L342.40,408.3 L343.29,407.6 L344.18,406.9 L345.07,406.2 L345.95,405.5 L346.84,404.8 L347.72,404.1 L348.59,403.4 L349.47,402.6 L350.35,401.9 L351.22,401.2 L352.09,400.5 L352.96,399.7 L353.82,399.0 L354.69,398.3 L355.55,397.5 L356.41,396.8 L357.27,396.0 L358.13,395.3 L358.99,394.5 L359.84,393.7 L360.69,393.0 L361.54,392.2 L362.39,391.4 L363.24,390.7 L364.09,389.9 L364.93,389.1 L365.78,388.3 L366.62,387.5 L367.46,386.7 L368.30,385.9 L369.14,385.2 L369.97,384.4 L370.81,383.6 L371.64,382.8 L372.48,381.9 L373.31,381.1 L374.14,380.3 L374.97,379.5 L375.80,378.7 L376.62,377.9 L377.45,377.1 L378.27,376.3 L379.10,375.4 L379.92,374.6 L380.74,373.8 L381.57,373.0 L382.39,372.1 L383.21,371.3 L384.02,370.5 L384.84,369.6 L385.66,368.8 L386.48,368.0 L387.29,367.1 L388.11,366.3 L388.92,365.4 L389.74,364.6 L390.55,363.7 L391.36,362.9 L392.18,362.1 L392.99,361.2 L393.80,360.4 L394.61,359.5 L395.42,358.7 L396.23,357.8 L397.04,357.0 L397.85,356.1 L398.66,355.3 L399.47,354.4 L400.28,353.6 L401.09,352.7 L401.89,351.9 L402.70,351.0 L403.51,350.1 L404.32,349.3 L405.13,348.4 L405.94,347.6 L406.74,346.7 L407.55,345.9 L408.36,345.0 L409.17,344.2 L409.98,343.3 L410.79,342.5 L411.60,341.6 L412.40,340.8 L413.21,339.9 L414.02,339.1 L414.83,338.2 L415.64,337.4 L416.45,336.5 L417.27,335.7 L418.08,334.8 L418.89,334.0 L419.70,333.1 L420.51,332.3 L421.33,331.5 L422.14,330.6 L422.96,329.8 L423.77,328.9 L424.59,328.1 L425.40,327.3 L426.22,326.4 L427.04,325.6 L427.86,324.8 L428.68,323.9 L429.50,323.1 L430.32,322.3 L431.14,321.5 L431.97,320.6 L432.79,319.8 L433.61,319.0 L434.44,318.2 L435.27,317.4 L436.10,316.6 L436.93,315.8 L437.76,315.0 L438.59,314.2 L439.42,313.4 L440.26,312.6 L441.09,311.8 L441.93,311.0 L442.77,310.2 L443.61,309.4 L444.45,308.6 L445.29,307.8 L446.13,307.0 L446.98,306.3 L447.82,305.5 L448.67,304.7 L449.52,304.0 L450.37,303.2 L451.22,302.4 L452.08,301.7 L452.94,300.9 L453.79,300.2 L454.65,299.4 L455.51,298.7 L456.38,298.0 L457.24,297.2 L458.11,296.5 L458.98,295.8 L459.85,295.0 L460.72,294.3 L461.59,293.6 L462.47,292.9 L463.35,292.2 L464.23,291.5 L465.11,290.8 L466.00,290.1 L466.88,289.4 L467.77,288.7 L468.66,288.0 L469.56,287.4 L470.45,286.7 L471.35,286.0 L472.25,285.4 L473.15,284.7 L474.06,284.1 L474.97,283.4 L475.88,282.8 L476.79,282.1 L477.70,281.5 L478.62,280.9 L479.54,280.2 L480.46,279.6 L481.39,279.0 L482.31,278.4 L483.25,277.8 L484.18,277.2 L485.11,276.6 L486.05,276.0 L486.99,275.5 L487.94,274.9 L488.88,274.3 L489.83,273.8 L490.79,273.2 L491.74,272.7 L492.70,272.1 L493.66,271.6 L494.63,271.1 L495.60,270.5 L496.57,270.0 L497.54,269.5 L498.52,269.0 L499.50,268.5 L500.48,268.0 L501.47,267.5 L502.46,267.1 L503.45,266.6 L504.45,266.1 L505.45,265.7 L506.45,265.2 L507.46,264.8 L508.47,264.3 L509.48,263.9 L510.50,263.5 L511.52,263.1" fill="none" stroke="#000080" stroke-width="2.3" stroke-linecap="round" stroke-linejoin="round"/>
<text class="ttl" style="font-size:12.4px" transform="translate(467.70,248.70) scale(1.052,1)"  stroke="#000" stroke-width="0.32">P</text>
<text class="ttl" style="font-size:11.3px" transform="translate(476.60,248.70) scale(1.169,1)" >arameter</text>
<text class="ttl it hv" style="font-size:12.5px" transform="translate(538.60,248.10) scale(1.221,1)" fill="#000" stroke="#000">μ</text>
<path d="M540.60,240.10 C541.68,237.60 543.30,238.40 544.20,239.20 S546.72,240.80 547.80,238.30" fill="none" stroke-width="1.5" stroke="#000"/>
<text class="ttl it hv" style="font-size:12.5px" transform="translate(590.00,374.10) scale(1.221,1)" fill="#000" stroke="#000">μ</text>
<path d="M592.00,366.10 C593.08,363.60 594.70,364.40 595.60,365.20 S598.12,366.80 599.20,364.30" fill="none" stroke-width="1.5" stroke="#000"/>
<text class="ttl" style="font-size:13.2px" transform="translate(606.40,373.90) scale(1.069,1)"  stroke="#000" stroke-width="0.32">(</text>
<text class="ttl" style="font-size:11.6px" transform="translate(612.00,374.10) scale(0.960,1)"  stroke="#000" stroke-width="0.32">in</text>
<text class="ttl" style="font-size:11.4px" transform="translate(629.20,374.10) scale(0.779,1)"  stroke="#000" stroke-width="0.42">%</text>
<text class="ttl" style="font-size:13.2px" transform="translate(637.70,373.90) scale(1.069,1)"  stroke="#000" stroke-width="0.32">)</text>
</svg>
</body></html>
